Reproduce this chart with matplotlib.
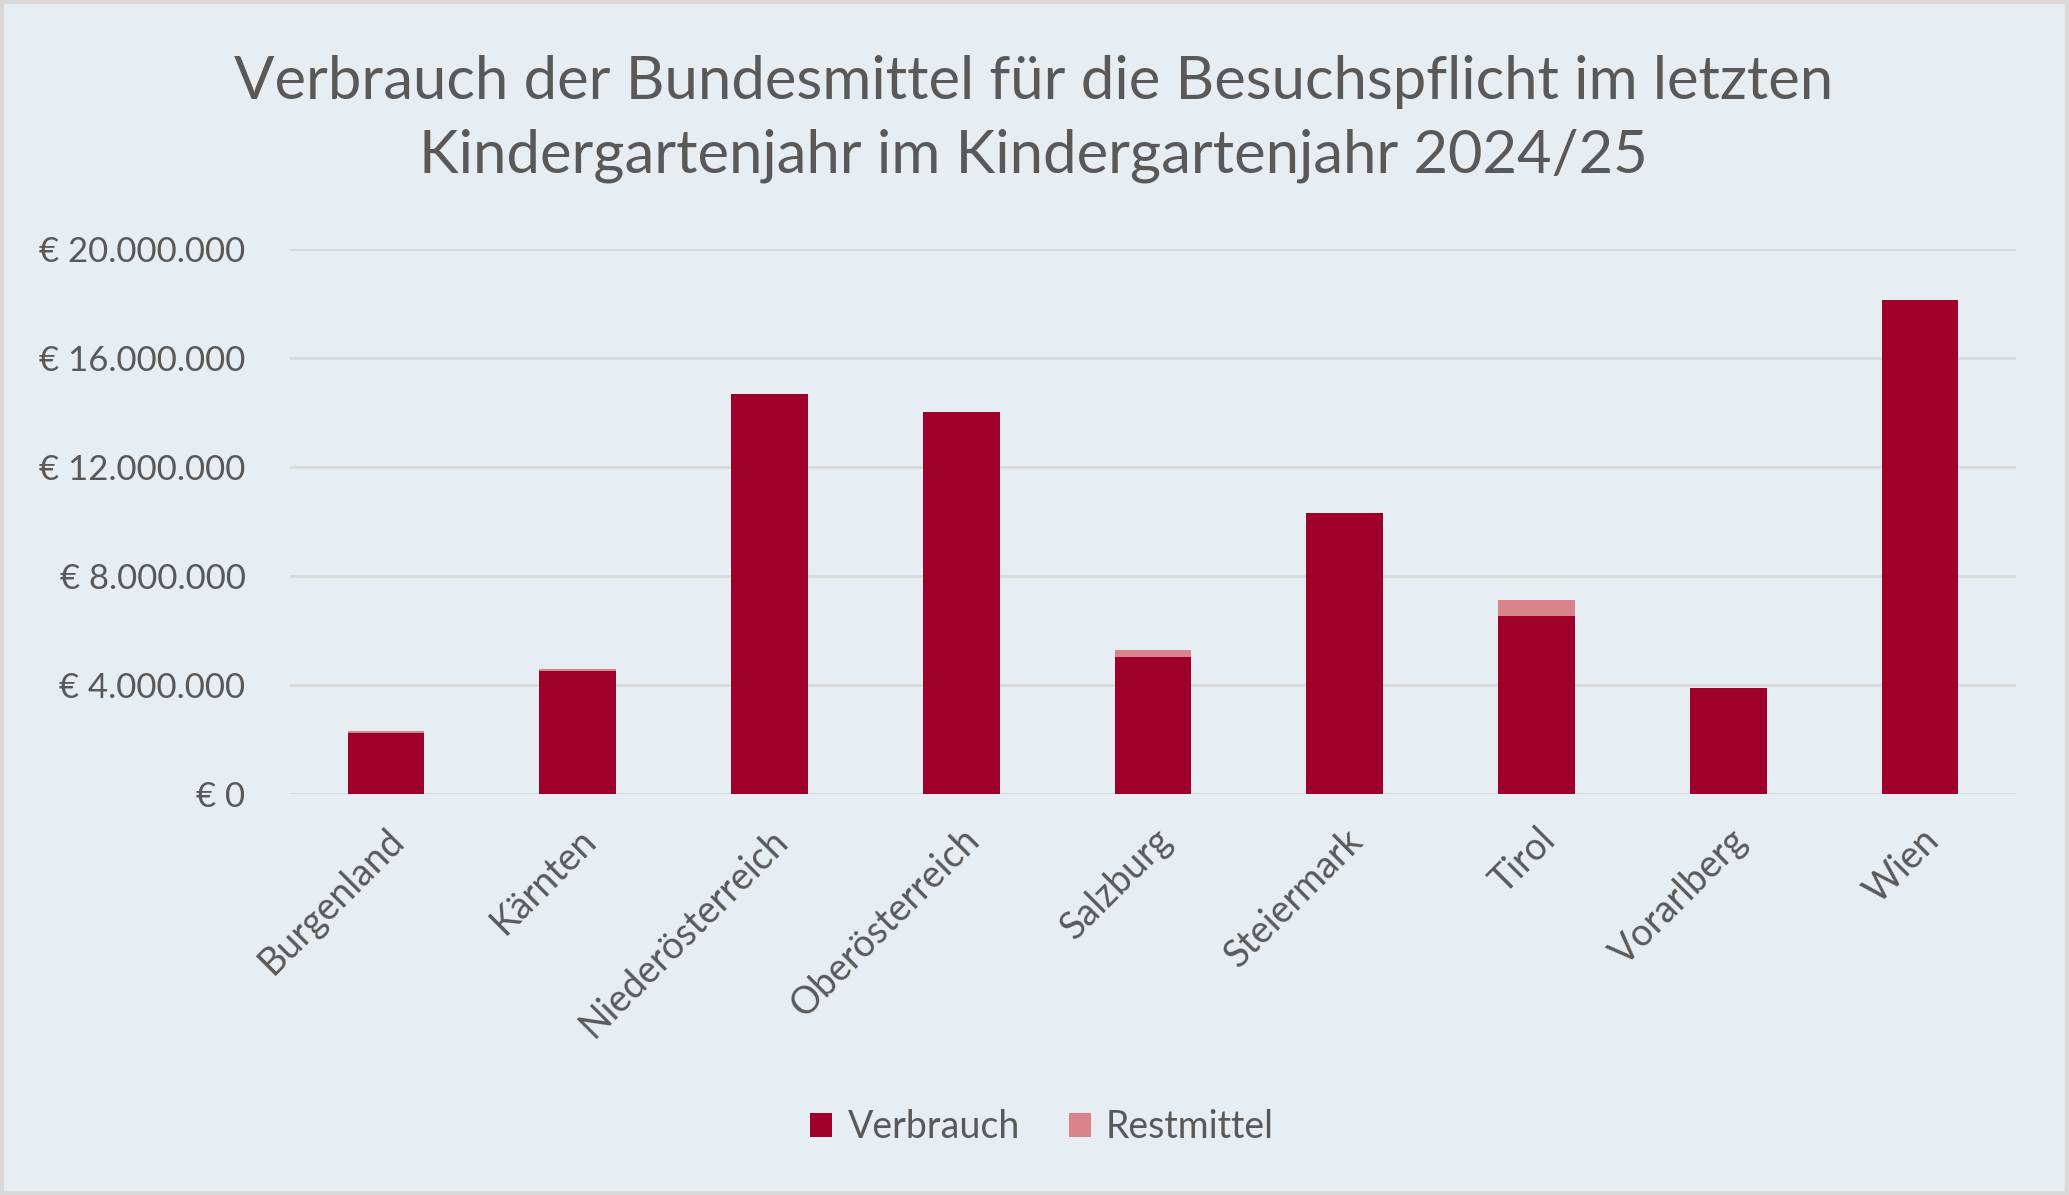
import matplotlib
matplotlib.use("Agg")
import matplotlib.pyplot as plt
from matplotlib.ticker import FuncFormatter
from matplotlib.patches import Rectangle

categories = ["Burgenland", "Kärnten", "Niederösterreich", "Oberösterreich",
              "Salzburg", "Steiermark", "Tirol", "Vorarlberg", "Wien"]
verbrauch = [2250000, 4520000, 14680000, 14010000, 5020000, 10300000, 6550000, 3880000, 18130000]
restmittel = [50000, 60000, 0, 0, 270000, 0, 570000, 0, 0]
y_ticks = [0, 4000000, 8000000, 12000000, 16000000, 20000000]

title = "Verbrauch der Bundesmittel für die Besuchspflicht im letzten\nKindergartenjahr im Kindergartenjahr 2024/25"

BG = "#E6EEF4"
TXT = "#595959"
C1 = "#9E002A"
C2 = "#D9838A"
GRID = "#D9D9D9"

plt.rcParams['font.family'] = ['Lato', 'DejaVu Sans']

fig = plt.figure(figsize=(20.69, 11.95), dpi=100, facecolor=BG)
ax = fig.add_axes([290/2069, 1 - 794/1195, (2016-290)/2069, (794-249)/1195])
ax.set_facecolor(BG)

x = list(range(len(categories)))
ax.bar(x, verbrauch, width=0.4, color=C1, label="Verbrauch", zorder=3)
ax.bar(x, restmittel, width=0.4, bottom=verbrauch, color=C2, label="Restmittel", zorder=3)

ax.set_xlim(-0.5, len(categories) - 0.5)
ax.set_ylim(0, 20000000)
ax.set_yticks(y_ticks)

def fmt(v, pos):
    if v == 0:
        return "€ 0"
    return "€ " + f"{int(v):,}".replace(",", ".")
ax.yaxis.set_major_formatter(FuncFormatter(fmt))

ax.grid(axis='y', color=GRID, linewidth=2, zorder=0)
ax.set_axisbelow(True)
for s in ax.spines.values():
    s.set_visible(False)
ax.tick_params(axis='both', length=0, colors=TXT)
ax.tick_params(axis='y', pad=32, labelsize=25)
ax.set_xticks(x)
ax.set_xticklabels(categories, rotation=45, ha='right', rotation_mode='anchor', fontsize=27, color=TXT)
ax.tick_params(axis='x', pad=20)
for lbl in ax.get_yticklabels():
    lbl.set_color(TXT)

fig.text(0.4995, 1 - 119/1195, title, ha='center', va='center', fontsize=43, color=TXT,
         fontweight='normal', linespacing=1.45)

leg = fig.legend(loc='center', bbox_to_anchor=(1042/2069, 1 - 1127/1195), ncol=2,
                 frameon=False, fontsize=27, labelcolor=TXT, handlelength=0.6,
                 handleheight=0.6, handletextpad=0.4, columnspacing=1.3)

fig.patches.append(Rectangle((0.001, 0.002), 0.998, 0.996, transform=fig.transFigure,
                             fill=False, edgecolor=GRID, linewidth=3))

fig.savefig("out.png", dpi=100, facecolor=BG)
